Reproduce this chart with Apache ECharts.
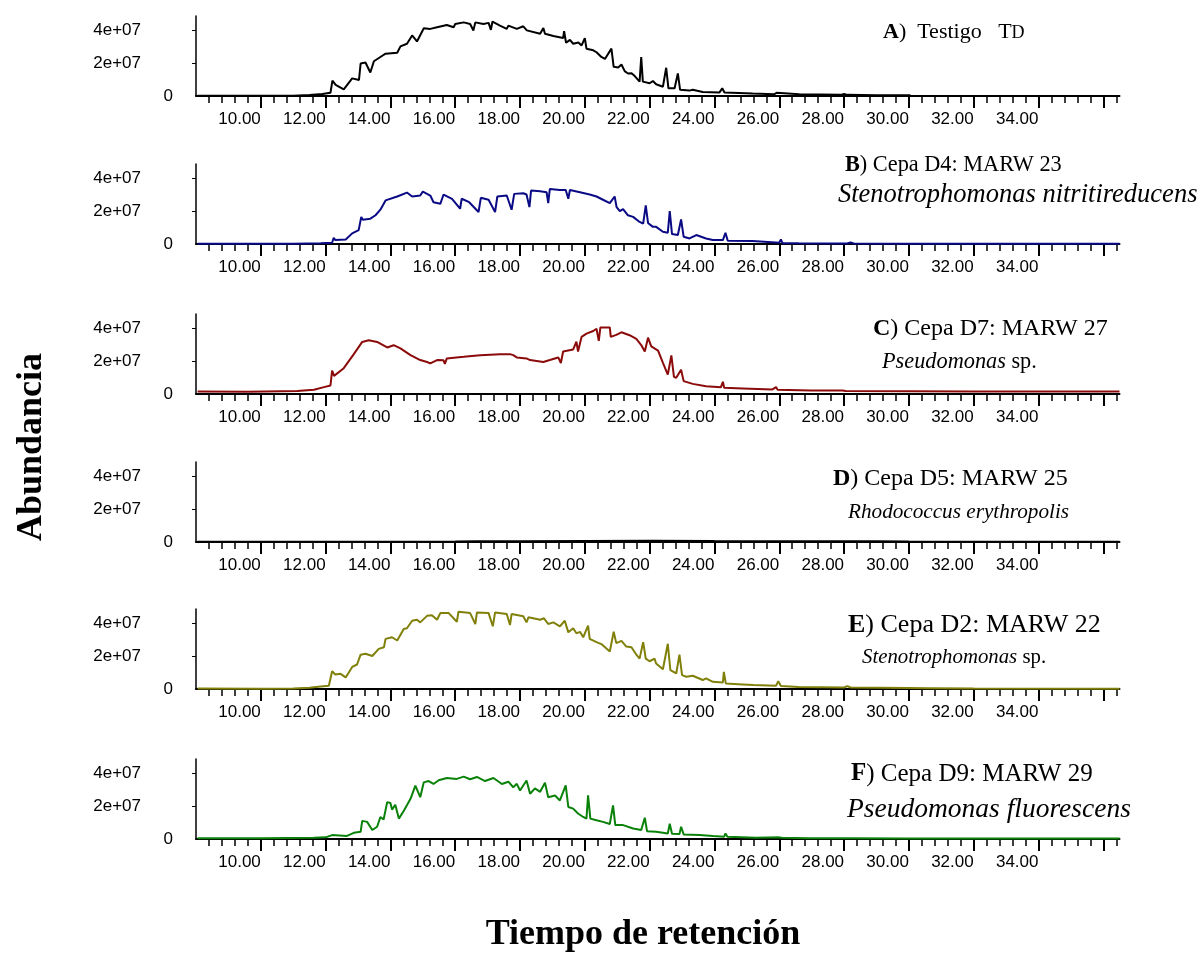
<!DOCTYPE html>
<html>
<head>
<meta charset="utf-8">
<script src="https://cdn.jsdelivr.net/npm/echarts@6/dist/echarts.min.js"></script>
<style>
html,body{margin:0;padding:0;background:#fff;}
#chart{width:1202px;height:954px;}
</style>
</head>
<body>
<div id="chart"></div>
<script>
// ---------- DATA (time in min, abundance in units of 1e6) ----------
const panelLetters = ['A', 'B', 'C', 'D', 'E', 'F'];
const panelTitles = [')  Testigo   T', ') Cepa D4: MARW 23', ') Cepa D7: MARW 27', ') Cepa D5: MARW 25', ') Cepa D2: MARW 22', ') Cepa D9: MARW 29'];
const speciesItalic = ['', 'Stenotrophomonas nitritireducens', 'Pseudomonas', 'Rhodococcus erythropolis', 'Stenotrophomonas', 'Pseudomonas fluorescens'];
const speciesPlain = ['', '', ' sp.', '', ' sp.', ''];
const lineColors = ['#000000', '#0a0a85', '#8b0a0a', '#000000', '#80800a', '#0a820a'];

const xLabelValues = [10, 12, 14, 16, 18, 20, 22, 24, 26, 28, 30, 32, 34];
const xTickLabels = ['10.00', '12.00', '14.00', '16.00', '18.00', '20.00', '22.00', '24.00', '26.00', '28.00', '30.00', '32.00', '34.00'];
const xMajorTicks = [10, 12, 14, 16, 18, 20, 22, 24, 26, 28, 30, 32, 34, 36];
const yTickValues = [0, 20, 40];
const yTickLabels = ['0', '2e+07', '4e+07'];

const seriesA = [[8.05,0.2],[9,0.1],[10,0.1],[11,0.2],[11.5,0.6],[11.9,1.2],[12.15,2.0],[12.21,9.4],[12.31,6.8],[12.56,4.1],[12.82,10.8],[13.03,9.8],[13.08,19.9],[13.23,20.5],[13.38,14.4],[13.49,21.3],[13.69,23.9],[13.85,25.9],[14.21,26.5],[14.31,30.4],[14.51,32],[14.67,37.1],[14.82,33.4],[15.03,41.5],[15.23,41.1],[15.44,42.1],[15.74,43.5],[15.95,42.1],[16.0,44.1],[16.26,45.1],[16.46,44.1],[16.56,40.1],[16.62,45.1],[16.87,44.1],[17.03,44.8],[17.1,40.5],[17.15,45.6],[17.38,43.1],[17.59,41.1],[17.64,43.1],[17.9,41.1],[18.1,42.7],[18.21,40.2],[18.62,38.1],[18.72,41.7],[18.77,38.1],[19.03,36.7],[19.33,35.5],[19.36,39.7],[19.42,32.6],[19.54,34.4],[19.64,32],[19.8,32.8],[19.9,31],[20.0,35.5],[20.05,29],[20.26,28],[20.36,26.8],[20.51,23.9],[20.62,22.7],[20.82,29],[20.89,17.9],[21.03,17.5],[21.13,19.3],[21.23,15.2],[21.33,13.8],[21.44,14],[21.54,12.2],[21.69,8.8],[21.74,23.9],[21.79,8.8],[22.0,7.8],[22.1,9.2],[22.2,7.2],[22.41,5.7],[22.51,17.3],[22.58,4.7],[22.77,4.7],[22.87,13.8],[22.94,3.8],[23.23,3.3],[23.33,3.8],[23.64,2.5],[24.15,2.1],[24.24,4.7],[24.31,2.1],[25.18,1.5],[25.85,1.1],[25.92,2.0],[25.98,1.1],[26.62,1.0],[27.9,0.7],[28.0,1.2],[28.1,0.7],[29,0.5],[30.05,0.4]];

const seriesB = [[8.05,0.2],[11,0.2],[11.85,0.4],[12.2,0.8],[12.25,3.8],[12.3,2.4],[12.62,2.8],[12.82,6.5],[13.02,8.5],[13.1,16.6],[13.15,14.9],[13.38,15.5],[13.54,17.6],[13.69,21],[13.85,26.7],[13.9,27.7],[14.21,29.1],[14.51,31.5],[14.67,29.1],[14.92,29.7],[15.0,32.1],[15.23,29.7],[15.33,25.6],[15.54,24.6],[15.64,30.3],[15.9,27.7],[16.15,21.6],[16.2,27.7],[16.43,25.6],[16.72,19.6],[16.79,28.3],[17.03,27.1],[17.23,19.6],[17.3,29.1],[17.59,29.7],[17.74,21],[17.82,30.7],[18.1,31.1],[18.2,30.3],[18.29,22.6],[18.34,32.7],[18.62,32.3],[18.82,31.7],[18.87,25.1],[18.92,33.7],[19.23,33.1],[19.41,33.1],[19.49,27.7],[19.54,33.1],[19.85,31.7],[20.15,30.3],[20.36,29.1],[20.56,27.1],[20.77,25],[20.92,29.1],[20.98,22.6],[21.08,20.2],[21.18,21.4],[21.33,17.6],[21.49,16.6],[21.69,13.5],[21.8,12.5],[21.88,23.6],[21.95,12.9],[22.1,10.5],[22.2,10.5],[22.41,7.5],[22.56,6.9],[22.62,20.2],[22.69,6.1],[22.87,5.5],[22.97,15],[23.05,4.4],[23.23,3.4],[23.44,5.5],[23.74,3.4],[23.95,2.4],[24.26,2.4],[24.34,6.9],[24.41,2.0],[25.18,1.8],[26.0,0.8],[26.05,2.8],[26.1,0.5],[26.6,0.4],[28.1,0.3],[28.2,1.0],[28.3,0.3],[30,0.2],[36.5,0.1]];

const seriesC = [[8.05,1.6],[9.6,1.4],[11.13,1.8],[11.64,2.6],[11.95,4.2],[12.15,5.2],[12.2,14.3],[12.26,11.1],[12.56,15.8],[12.87,24.4],[13.13,31.9],[13.33,32.9],[13.59,31.9],[13.9,28.5],[14.1,29.9],[14.31,27.9],[14.62,23.8],[14.92,20.8],[15.13,19.6],[15.23,18.8],[15.44,20.8],[15.64,20.6],[15.68,18.4],[15.74,21.8],[16.26,22.8],[16.77,23.8],[17.38,24.4],[17.69,24.4],[17.79,23.8],[17.85,24.8],[17.9,22.4],[18.2,21.8],[18.31,20.8],[18.72,19.6],[18.92,20.8],[19.18,22.4],[19.26,19],[19.33,26],[19.64,27.3],[19.74,32],[19.79,26],[19.9,35],[20.05,37],[20.26,38.6],[20.36,40],[20.43,32.5],[20.48,40.8],[20.77,40.8],[20.8,35],[20.97,36.2],[21.13,37.8],[21.38,36],[21.59,33.7],[21.74,30],[21.85,26],[21.95,34.5],[22.05,29.2],[22.26,26.6],[22.41,19],[22.56,11.9],[22.67,23.6],[22.75,10.5],[22.82,9.9],[22.97,14.9],[23.05,7.9],[23.33,6.2],[23.74,4.8],[24.2,4.2],[24.26,7.5],[24.3,3.8],[24.87,3.4],[25.79,2.8],[25.9,4.2],[25.95,2.6],[26.97,2.2],[27.95,2.2],[28.0,3.4],[28.05,1.8],[30,1.7],[32,1.6],[34,1.6],[36.5,1.5]];

const seriesD = [[8.05,0.2],[10,0.1],[12,0.1],[14,0.2],[16,0.3],[16.68,0.5],[16.72,1.0],[16.8,0.5],[18,0.5],[20,0.6],[22,0.8],[22.05,1.1],[22.1,0.8],[24,0.6],[26,0.5],[28.8,0.5],[28.85,0.9],[28.9,0.5],[30,0.3],[32,0.2],[36.5,0.2]];

const seriesE = [[8.05,0.3],[10,0.2],[11,0.3],[11.5,0.8],[11.85,1.6],[12.1,2.0],[12.2,10.9],[12.3,8.9],[12.46,9.3],[12.62,7.1],[12.82,13.5],[12.97,15],[13.08,21],[13.23,21.6],[13.44,20.2],[13.64,24.6],[13.8,25.6],[13.85,30.7],[14.05,31.7],[14.21,29.7],[14.41,36.8],[14.51,37.2],[14.67,41.8],[14.82,42.4],[14.92,40.8],[15.13,44.8],[15.28,45.2],[15.44,42.4],[15.54,46.5],[15.8,46.5],[15.85,45.9],[16.05,41.2],[16.1,47.3],[16.46,46.5],[16.62,39.8],[16.67,46.9],[17.03,46.5],[17.16,38.4],[17.23,46.9],[17.59,45.9],[17.69,39.2],[17.74,45.9],[18.1,44.5],[18.2,40.8],[18.26,43.9],[18.62,42.4],[18.74,43.3],[18.87,39.8],[19.03,40.8],[19.23,38.4],[19.38,41.8],[19.49,34.7],[19.64,37.2],[19.74,34.1],[19.85,35],[19.95,31.7],[20.1,38.8],[20.15,30.7],[20.36,28.7],[20.51,27.5],[20.77,23],[20.89,35.1],[20.97,28.1],[21.13,29.5],[21.28,26],[21.44,25.6],[21.59,21],[21.69,18.6],[21.8,28.7],[21.88,18.6],[22.0,17],[22.15,18.6],[22.2,15.6],[22.41,12.1],[22.56,27.7],[22.64,11.5],[22.82,9.5],[22.92,21],[23.0,8.5],[23.13,7.5],[23.33,8.1],[23.64,5.5],[23.74,6.5],[23.95,4.4],[24.26,4.0],[24.29,10.5],[24.35,3.4],[24.87,2.8],[25.2,2.4],[25.9,2.0],[25.97,4.8],[26.05,1.8],[26.6,1.2],[28.0,0.9],[28.1,1.8],[28.2,0.9],[30,0.6],[30.6,0.5],[30.65,1.2],[30.7,0.5],[32,0.3],[36.5,0.2]];

const seriesF = [[8.05,0.4],[10,0.4],[11.64,0.8],[12.0,1.0],[12.2,2.4],[12.66,1.9],[12.87,3.8],[13.08,4.4],[13.13,11.1],[13.28,10.5],[13.44,5.5],[13.59,7.5],[13.69,13.5],[13.79,11.9],[13.9,22.6],[14.0,22],[14.05,18],[14.15,21],[14.26,12.5],[14.41,17.2],[14.62,24.6],[14.77,32.7],[14.92,25.6],[15.03,34.7],[15.18,35.5],[15.33,33.7],[15.49,36],[15.74,37.4],[16.05,36.8],[16.26,38.2],[16.46,36.6],[16.67,38],[16.92,35.5],[17.18,37.4],[17.44,33.7],[17.64,35.1],[17.79,31.7],[17.9,33.8],[18.0,29.7],[18.2,35.8],[18.31,27.7],[18.46,31],[18.62,28.9],[18.77,34.4],[18.87,25.6],[19.08,26.6],[19.23,23.6],[19.41,32.9],[19.49,19.6],[19.64,18.6],[19.79,15.6],[19.95,13.5],[20.05,12.5],[20.1,26.7],[20.17,12.5],[20.36,11.5],[20.56,10.5],[20.77,9.2],[20.87,20.6],[20.94,8.5],[21.18,8.5],[21.49,6.4],[21.74,5.5],[21.85,13],[21.92,4.8],[22.2,4.4],[22.56,3.4],[22.62,9.3],[22.69,3.2],[22.92,3.0],[22.97,7.5],[23.05,2.8],[23.54,2.4],[23.95,1.8],[24.3,1.4],[24.34,3.4],[24.4,1.4],[25.28,0.8],[26.0,1.0],[26.03,1.8],[26.08,0.8],[26.9,0.4],[28.1,0.4],[28.15,1.0],[28.2,0.4],[30,0.3],[36.5,0.3]];

const allSeries = [seriesA, seriesB, seriesC, seriesD, seriesE, seriesF];

// ---------- LAYOUT ----------
const zeroY = [96, 244, 394, 542, 689, 839];
const panelH = 80;
const X_MIN = 8, X_MAX = 36.5, Y_MAX = 49;
const title1Pos = [[883, 32], [845, 165], [873, 329], [833, 479], [848, 625], [851, 774]];
const title2Pos = [null, [838, 195], [882, 362], [848, 512], [862, 658], [847, 810]];
const title1Size = [22, 22.3, 24, 24, 26, 25];
const title2Size = [0, 26.5, 22.3, 21.2, 20.8, 27.5];

const minorTicks = [];
for (let i = 1; i <= 71; i++) {
  const t = Math.round((X_MIN + i * 0.4) * 10) / 10;
  if (Math.abs(t / 2 - Math.round(t / 2)) > 1e-6 && t < X_MAX) minorTicks.push(t);
}

const SANS = 'Liberation Sans';
const SERIF = 'Liberation Serif';

const grids = [], xAxes = [], yAxes = [], series = [], graphics = [];
for (let k = 0; k < 6; k++) {
  grids.push({ left: 196, right: 82.5, top: zeroY[k] - panelH, height: panelH });
  xAxes.push({
    type: 'value', gridIndex: k, min: X_MIN, max: X_MAX, position: 'bottom',
    axisLine: { show: true, lineStyle: { color: '#000', width: 2 } },
    axisTick: { show: true, customValues: xMajorTicks, length: 12, lineStyle: { color: '#000', width: 2 } },
    axisLabel: {
      customValues: xLabelValues, align: 'right', margin: 15,
      fontFamily: SANS, fontSize: 17, color: '#000',
      formatter: v => xTickLabels[xLabelValues.indexOf(Math.round(v))]
    },
    splitLine: { show: false }
  });
  xAxes.push({
    type: 'value', gridIndex: k, min: X_MIN, max: X_MAX, position: 'bottom',
    axisLine: { show: false },
    axisTick: { show: true, customValues: minorTicks, length: 7, lineStyle: { color: '#000', width: 1.5 } },
    axisLabel: { show: false },
    splitLine: { show: false }
  });
  yAxes.push({
    type: 'value', gridIndex: k, min: 0, max: Y_MAX,
    axisLine: { show: true, lineStyle: { color: '#000', width: 1.5 } },
    axisTick: { show: true, customValues: [20, 40], length: 4, lineStyle: { color: '#000', width: 1 } },
    axisLabel: {
      customValues: yTickValues, margin: 23,
      formatter: v => {
        const lab = yTickLabels[yTickValues.indexOf(Math.round(v))];
        return v === 0 ? '{z|' + lab + '}' : '{n|' + lab + '}';
      },
      rich: {
        z: { fontFamily: SANS, fontSize: 17, color: '#000' },
        n: { fontFamily: SANS, fontSize: 17, color: '#000', padding: [0, 32, 0, 0] }
      }
    },
    splitLine: { show: false }
  });
  series.push({
    type: 'line', xAxisIndex: 2 * k, yAxisIndex: k,
    data: allSeries[k], showSymbol: false, smooth: false, clip: true,
    lineStyle: { color: lineColors[k], width: 2 }, itemStyle: { color: lineColors[k] }
  });

  // panel titles
  const fs1 = title1Size[k];
  const t1 = k === 0
    ? '{b|' + panelLetters[k] + '}{r|' + panelTitles[k] + '}{s|D}'
    : '{b|' + panelLetters[k] + '}{r|' + panelTitles[k] + '}';
  graphics.push({
    type: 'text', x: title1Pos[k][0], y: title1Pos[k][1],
    style: {
      text: t1, align: 'left', verticalAlign: 'middle', fill: '#000',
      fontFamily: SERIF, fontSize: fs1,
      rich: {
        b: { fontFamily: SERIF, fontSize: fs1, fontWeight: 'bold', fill: '#000' },
        r: { fontFamily: SERIF, fontSize: fs1, fill: '#000' },
        s: { fontFamily: SERIF, fontSize: 18, fill: '#000', verticalAlign: 'bottom', padding: [0, 0, 1, 0] }
      }
    }
  });
  if (title2Pos[k]) {
    const fs2 = title2Size[k];
    let t2 = '{i|' + speciesItalic[k] + '}';
    if (speciesPlain[k]) t2 += '{r|' + speciesPlain[k] + '}';
    graphics.push({
      type: 'text', x: title2Pos[k][0], y: title2Pos[k][1],
      style: {
        text: t2, align: 'left', verticalAlign: 'middle', fill: '#000',
        fontFamily: SERIF, fontSize: fs2,
        rich: {
          i: { fontFamily: SERIF, fontSize: fs2, fontStyle: 'italic', fill: '#000' },
          r: { fontFamily: SERIF, fontSize: fs2, fill: '#000' }
        }
      }
    });
  }
}

graphics.push({
  type: 'text', x: 32, y: 447, rotation: Math.PI / 2,
  style: { text: 'Abundancia', align: 'center', verticalAlign: 'middle', fill: '#000',
    fontFamily: SERIF, fontSize: 36, fontWeight: 'bold' }
});
graphics.push({
  type: 'text', x: 643, y: 935,
  style: { text: 'Tiempo de retención', align: 'center', verticalAlign: 'middle', fill: '#000',
    fontFamily: SERIF, fontSize: 36, fontWeight: 'bold' }
});

const chart = echarts.init(document.getElementById('chart'), null, { renderer: 'canvas' });
chart.setOption({
  animation: false,
  backgroundColor: '#ffffff',
  grid: grids,
  xAxis: xAxes,
  yAxis: yAxes,
  series: series,
  graphic: graphics
});
</script>
</body>
</html>
